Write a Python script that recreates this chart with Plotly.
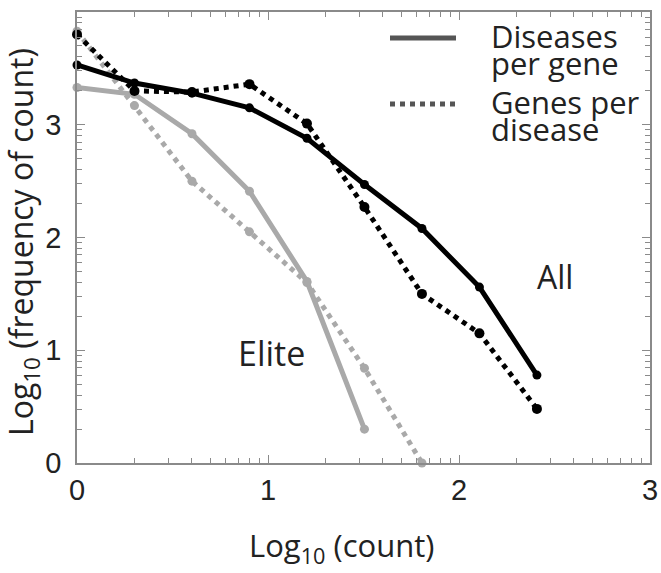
import math
import plotly.graph_objects as go

# log10 of count bins (powers of two)
log_count = [0.0, 0.301, 0.602, 0.903, 1.204, 1.505, 1.806, 2.107, 2.408]

all_dis_per_gene = [3.53, 3.37, 3.28, 3.15, 2.88, 2.47, 2.08, 1.56, 0.78]
all_genes_per_dis = [3.80, 3.30, 3.29, 3.36, 3.01, 2.27, 1.50, 1.15, 0.48]
elite_dis_per_gene = [3.33, 3.27, 2.92, 2.41, 1.61, 0.30]
elite_genes_per_dis = [3.83, 3.17, 2.50, 2.05, 1.60, 0.84, 0.00]

x_ticks = [0, 1, 2, 3]
y_ticks = [0, 1, 2, 3, 4]
x_minor = [d + math.log10(k) for d in range(3) for k in range(2, 10)]
y_minor = [d + math.log10(k) for d in range(4) for k in range(2, 10)]

BLACK = "#000000"
GRAY = "#a9a9a9"
TXT = "#222222"
TEXTFONT = "Open Sans"
TICKFONT = "Liberation Sans"
FRAME = "#8a8a8a"

# plot area in page pixels
PL, PR, PT, PB = 77, 650, 12, 463
PW, PH = PR - PL, PB - PT

fig = go.Figure()

def add(xs, ys, color, dash, msize):
    fig.add_trace(go.Scatter(
        x=xs[:len(ys)], y=ys, mode="lines+markers",
        line=dict(color=color, width=5, dash=dash),
        marker=dict(color=color, size=msize),
        showlegend=False, cliponaxis=False))

add(log_count, elite_genes_per_dis, GRAY, "dot", 9)
add(log_count, elite_dis_per_gene, GRAY, "solid", 9)
add(log_count, all_genes_per_dis, BLACK, "dot", 10)
add(log_count, all_dis_per_gene, BLACK, "solid", 9)

tick_style = dict(ticks="inside", ticklen=8, tickcolor=FRAME, tickwidth=1.2)
minor_x = dict(tickmode="array", tickvals=x_minor, ticks="inside",
               ticklen=5, tickcolor=FRAME, tickwidth=1)
minor_y = dict(tickmode="array", tickvals=y_minor, ticks="inside",
               ticklen=5, tickcolor=FRAME, tickwidth=1)

fig.update_layout(
    xaxis=dict(range=[0, 3], tickmode="array", tickvals=x_ticks,
               ticktext=[str(v) for v in x_ticks], minor=minor_x,
               showgrid=False, zeroline=False, showline=True, linecolor=FRAME,
               linewidth=1.5, mirror=True, automargin=False,
               tickfont=dict(family=TICKFONT, size=29, color=TXT),
               **tick_style),
    yaxis=dict(range=[0, 4], tickmode="array", tickvals=y_ticks,
               ticktext=[str(v) for v in y_ticks], minor=minor_y,
               showgrid=False, zeroline=False, showline=True, linecolor=FRAME,
               linewidth=1.5, mirror=True, automargin=False,
               ticklabelstandoff=8,
               tickfont=dict(family=TICKFONT, size=29, color=TXT),
               **tick_style),
    # mirrored tick marks on top and right
    xaxis2=dict(range=[0, 3], overlaying="x", anchor="y", side="top",
                tickmode="array", tickvals=x_ticks, showticklabels=False,
                minor=minor_x, showgrid=False, zeroline=False,
                showline=False, automargin=False, **tick_style),
    yaxis2=dict(range=[0, 4], overlaying="y", anchor="x", side="right",
                tickmode="array", tickvals=y_ticks, showticklabels=False,
                minor=minor_y, showgrid=False, zeroline=False,
                showline=False, automargin=False, **tick_style),
)
fig.add_trace(go.Scatter(x=[], y=[], xaxis="x2", yaxis="y2",
                         showlegend=False, hoverinfo="skip"))

def px(xs):
    return (xs - PL) / PW

def py(ys):
    return (PB - ys) / PH

# axis titles
fig.add_annotation(text="Log<sub>10</sub> (count)", xref="paper", yref="paper",
                   x=px(341), y=py(547),
                   xanchor="center", yanchor="middle", showarrow=False,
                   font=dict(family=TEXTFONT, size=31, color=TXT))
fig.add_annotation(text="Log<sub>10</sub> (frequency of count)",
                   xref="paper", yref="paper", textangle=-90,
                   x=px(23), y=0.49,
                   xanchor="center", yanchor="middle", showarrow=False,
                   font=dict(family=TEXTFONT, size=32, color=TXT))

# legend drawn manually (long line samples)
fig.add_shape(type="line", xref="paper", yref="paper",
              x0=px(390), x1=px(456), y0=py(38), y1=py(38),
              line=dict(color="#555555", width=5))
fig.add_shape(type="line", xref="paper", yref="paper",
              x0=px(390), x1=px(456), y0=py(104), y1=py(104),
              line=dict(color="#555555", width=5, dash="dot"))

legend_lines = [("Diseases", 36), ("per gene", 63), ("Genes per", 102), ("disease", 129)]
for txt, yc in legend_lines:
    fig.add_annotation(text=txt, xref="paper", yref="paper",
                       x=px(489), y=py(yc),
                       xanchor="left", yanchor="middle", showarrow=False,
                       font=dict(family=TEXTFONT, size=31, color=TXT))

fig.add_annotation(text="All", x=2.50, y=1.65, showarrow=False,
                   font=dict(family=TEXTFONT, size=32, color=TXT))
fig.add_annotation(text="Elite", x=1.016, y=0.98, showarrow=False,
                   font=dict(family=TEXTFONT, size=34, color=TXT))

fig.update_layout(
    width=661, height=573,
    margin=dict(l=PL, r=661 - PR, t=PT, b=573 - PB),
    plot_bgcolor="white", paper_bgcolor="white",
)

fig.write_html(
    "out.html",
    config={"displayModeBar": False},
    post_script="document.body.style.margin='0px';"
                "document.documentElement.style.overflow='hidden';",
)
